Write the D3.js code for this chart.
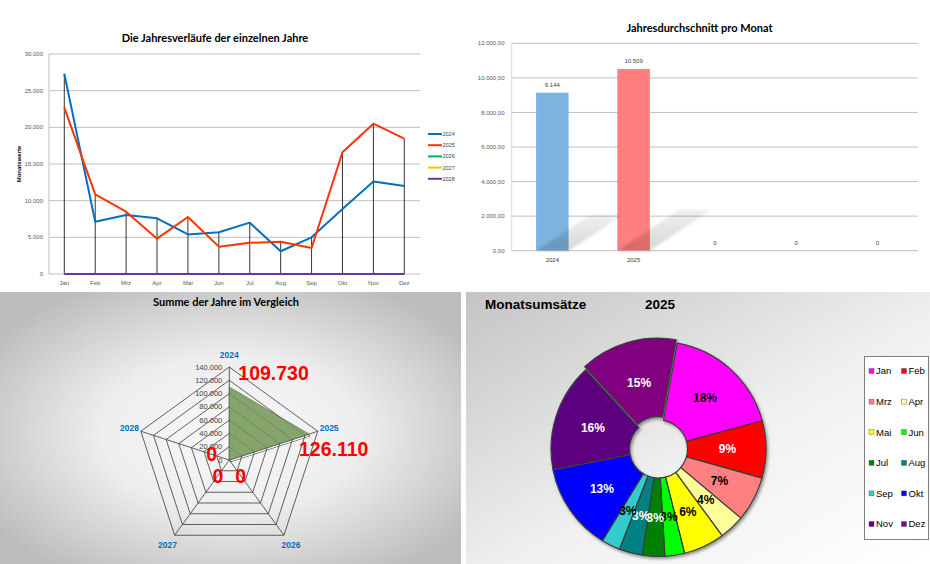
<!DOCTYPE html>
<html lang="de">
<head>
<meta charset="UTF-8">
<title>Jahresübersicht</title>
<script src="https://d3js.org/d3.v7.min.js"></script>
<style>
  html, body { margin: 0; padding: 0; background: #fff; }
  svg { display: block; }
  .title { font-family: Lato, "Open Sans", sans-serif; font-weight: bold; fill: #000; }
  .small { font-family: "Liberation Sans", Arial, sans-serif; fill: #595959; }
</style>
</head>
<body>
<div id="chart"></div>
<script>
// ---- Daten ----
const months = ["Jan", "Feb", "Mrz", "Apr", "Mai", "Jun", "Jul", "Aug", "Sep", "Okt", "Nov", "Dez"];
const years = ["2024", "2025", "2026", "2027", "2028"];
const values2024 = [27300, 7130, 8050, 7600, 5400, 5700, 7000, 3100, 5000, 8850, 12600, 12000];
const values2025 = [22680, 10860, 8500, 4820, 7770, 3730, 4250, 4400, 3550, 16600, 20500, 18450];
const values2026 = [0, 0, 0, 0, 0, 0, 0, 0, 0, 0, 0, 0];
const values2027 = [0, 0, 0, 0, 0, 0, 0, 0, 0, 0, 0, 0];
const values2028 = [0, 0, 0, 0, 0, 0, 0, 0, 0, 0, 0, 0];
const yearAverages = [9144, 10509, 0, 0, 0];
const barLabels = ["2024", "2025", "", "", ""];
const yearTotals = [109730, 126110, 0, 0, 0];

// ---- Farben ----
const lineColors = ["#0070C0", "#FF3300", "#00B050", "#FFC000", "#7030A0"];
const barColors = ["#7DB3DF", "#FF7E7E", "#ccc", "#ccc", "#ccc"];
const pieColors = ["#FF00FF", "#FF0000", "#FF8080", "#FFFF99", "#FFFF00", "#00FF00",
                   "#008000", "#008080", "#33CCCC", "#0000FF", "#5C0080", "#800080"];
const pieTextColors = ["#000", "#fff", "#000", "#000", "#000", "#000",
                       "#fff", "#fff", "#000", "#fff", "#fff", "#fff"];

const de = d3.formatLocale({ decimal: ",", thousands: ".", grouping: [3], currency: ["", " €"] });
const fInt = de.format(",d");
const fDec = de.format(",.2f");

const W = 930, H = 564;
const svg = d3.select("#chart").append("svg").attr("width", W).attr("height", H);
const defs = svg.append("defs");

// Hintergründe
const rg = defs.append("radialGradient").attr("id", "radarBg")
  .attr("cx", "50%").attr("cy", "52%").attr("r", "62%");
rg.append("stop").attr("offset", "0%").attr("stop-color", "#f7f7f7");
rg.append("stop").attr("offset", "45%").attr("stop-color", "#eeeeee");
rg.append("stop").attr("offset", "100%").attr("stop-color", "#bcbcbc");

const lg = defs.append("linearGradient").attr("id", "pieBg")
  .attr("x1", 0).attr("y1", 0).attr("x2", 1).attr("y2", 1);
lg.append("stop").attr("offset", "0%").attr("stop-color", "#c4c4c4");
lg.append("stop").attr("offset", "55%").attr("stop-color", "#f0f0f0");
lg.append("stop").attr("offset", "100%").attr("stop-color", "#ffffff");

const shadowGrad = defs.append("linearGradient").attr("id", "barShadow")
  .attr("x1", 0).attr("y1", 1).attr("x2", 0).attr("y2", 0);
shadowGrad.append("stop").attr("offset", "0%").attr("stop-color", "#000").attr("stop-opacity", 0.16);
shadowGrad.append("stop").attr("offset", "100%").attr("stop-color", "#000").attr("stop-opacity", 0.06);

defs.append("filter").attr("id", "blur").append("feGaussianBlur").attr("stdDeviation", 1.5);
defs.append("filter").attr("id", "pieShadow")
  .attr("x", "-20%").attr("y", "-20%").attr("width", "140%").attr("height", "140%")
  .append("feDropShadow").attr("dx", 1.5).attr("dy", 2).attr("stdDeviation", 1.5)
  .attr("flood-color", "#000").attr("flood-opacity", 0.4);

// ================= 1) Liniendiagramm =================
{
  const g = svg.append("g");
  const x = d3.scalePoint().domain(months).range([64.3, 404.3]);
  const y = d3.scaleLinear().domain([0, 30000]).range([274, 54]);
  const series = [values2024, values2025, values2026, values2027, values2028];

  g.append("text").attr("class", "title").attr("x", 215).attr("y", 42)
    .attr("text-anchor", "middle").attr("font-size", 11).text("Die Jahresverläufe der einzelnen Jahre");

  g.selectAll(".grid").data(y.ticks(6)).join("line")
    .attr("x1", 49).attr("x2", 420).attr("y1", d => y(d)).attr("y2", d => y(d))
    .attr("stroke", "#bfbfbf").attr("stroke-width", 1);
  g.append("line").attr("x1", 49).attr("x2", 49).attr("y1", 54).attr("y2", 274).attr("stroke", "#bfbfbf");

  g.selectAll(".ylab").data(y.ticks(6)).join("text").attr("class", "small")
    .attr("x", 43).attr("y", d => y(d)).attr("dy", "0.35em").attr("text-anchor", "end")
    .attr("font-size", 6).text(d => fInt(d));
  g.selectAll(".xlab").data(months).join("text").attr("class", "small")
    .attr("x", d => x(d)).attr("y", 285).attr("text-anchor", "middle")
    .attr("font-size", 6).text(d => d);

  g.append("text").attr("class", "small").attr("transform", "translate(21,164) rotate(-90)")
    .attr("text-anchor", "middle").attr("font-size", 6).attr("font-weight", "bold")
    .style("fill", "#000").text("Monatswerte");

  // Lotlinien
  g.selectAll(".drop").data(months).join("line")
    .attr("x1", d => x(d)).attr("x2", d => x(d))
    .attr("y1", (d, i) => y(d3.max(series, s => s[i]))).attr("y2", y(0))
    .attr("stroke", "#000").attr("stroke-width", 0.8);

  const line = d3.line().x((d, i) => x(months[i])).y(d => y(d));
  series.forEach((s, k) => {
    g.append("path").datum(s).attr("d", line).attr("fill", "none")
      .attr("stroke", lineColors[k]).attr("stroke-width", 2).attr("stroke-linejoin", "round");
  });

  const leg = g.selectAll(".leg").data(years).join("g")
    .attr("transform", (d, i) => `translate(428,${134 + i * 11.2})`);
  leg.append("line").attr("x1", 0).attr("x2", 14).attr("stroke", (d, i) => lineColors[i]).attr("stroke-width", 2);
  leg.append("text").attr("class", "small").attr("x", 14.5).attr("dy", "0.35em")
    .attr("font-size", 5.5).style("fill", "#404040").text(d => d);
}

// ================= 2) Säulendiagramm =================
{
  const g = svg.append("g");
  const x = d3.scaleBand().domain(d3.range(years.length)).range([511.7, 918])
    .paddingInner(0.6).paddingOuter(0.3);
  const y = d3.scaleLinear().domain([0, 12000]).range([250.7, 43.3]);

  g.append("text").attr("class", "title").attr("x", 699.5).attr("y", 32)
    .attr("text-anchor", "middle").attr("font-size", 11).text("Jahresdurchschnitt pro Monat");

  g.selectAll(".grid").data(y.ticks(6)).join("line")
    .attr("x1", 511.7).attr("x2", 918).attr("y1", d => y(d)).attr("y2", d => y(d))
    .attr("stroke", "#bfbfbf");
  g.append("line").attr("x1", 511.7).attr("x2", 511.7).attr("y1", 43.3).attr("y2", 250.7).attr("stroke", "#d9d9d9");

  g.selectAll(".ylab").data(y.ticks(6)).join("text").attr("class", "small")
    .attr("x", 504.5).attr("y", d => y(d)).attr("dy", "0.35em").attr("text-anchor", "end")
    .attr("font-size", 6).text(d => fDec(d));

  g.selectAll(".bar").data(yearAverages).join("rect")
    .attr("x", (d, i) => x(i)).attr("width", x.bandwidth())
    .attr("y", d => y(d)).attr("height", d => y(0) - y(d))
    .attr("fill", (d, i) => barColors[i]);

  // Schatten
  g.selectAll(".shadow").data(yearAverages.filter(d => d > 0)).join("path")
    .attr("d", (d, i) => {
      const h = y(0) - y(d), x0 = x(i), x1 = x(i) + x.bandwidth();
      const dy = h * 0.225, dx = h * 0.34, b = y(0);
      return `M${x0},${b}L${x1},${b}L${x1 + dx},${b - dy}L${x0 + dx},${b - dy}Z`;
    })
    .attr("fill", "url(#barShadow)").attr("filter", "url(#blur)");

  g.selectAll(".vlab").data(yearAverages).join("text").attr("class", "small")
    .attr("x", (d, i) => x(i) + x.bandwidth() / 2)
    .attr("y", d => d > 0 ? y(d) - 6 : y(0) - 6)
    .attr("text-anchor", "middle").attr("font-size", 6).style("fill", "#404040")
    .text(d => fInt(d));

  g.selectAll(".xlab").data(barLabels).join("text").attr("class", "small")
    .attr("x", (d, i) => x(i) + x.bandwidth() / 2).attr("y", 261.5)
    .attr("text-anchor", "middle").attr("font-size", 6).style("fill", "#404040").text(d => d);
}

// ================= 3) Netzdiagramm =================
{
  const g = svg.append("g");
  g.append("rect").attr("x", 0).attr("y", 292).attr("width", 461).attr("height", 272).attr("fill", "url(#radarBg)");
  g.append("text").attr("class", "title").attr("x", 226).attr("y", 306)
    .attr("text-anchor", "middle").attr("font-size", 11).text("Summe der Jahre im Vergleich");

  const cx = 229.3, cy = 460;
  const r = d3.scaleLinear().domain([0, 140000]).range([0, 93]);
  const ang = i => i * 2 * Math.PI / years.length;
  const pt = (i, v) => [cx + r(v) * Math.sin(ang(i)), cy - r(v) * Math.cos(ang(i))];
  const closed = d3.line().curve(d3.curveLinearClosed);
  const ticks = r.ticks(7);
  const poly = closed(yearTotals.map((v, i) => pt(i, v)));

  // Schatten nur außerhalb der Fläche
  const mask = defs.append("mask").attr("id", "radarMask");
  mask.append("rect").attr("x", 0).attr("y", 0).attr("width", W).attr("height", H).attr("fill", "#fff");
  mask.append("path").attr("d", poly).attr("fill", "#000");
  g.append("path").attr("d", poly).attr("transform", "translate(1,1.8)").attr("mask", "url(#radarMask)")
    .attr("fill", "#1a1a1a").attr("stroke", "#1a1a1a").attr("stroke-width", 0.8);

  g.append("path").attr("d", poly).attr("fill", "#86A56C").attr("stroke", "#3a4a30").attr("stroke-width", 0.6);

  ticks.filter(t => t > 0).forEach(t => {
    g.append("path").attr("d", closed(years.map((d, i) => pt(i, t))))
      .attr("fill", "none").attr("stroke", "#3a3a3a").attr("stroke-width", 0.8);
  });
  years.forEach((d, i) => {
    const p = pt(i, 140000);
    g.append("line").attr("x1", cx).attr("y1", cy).attr("x2", p[0]).attr("y2", p[1])
      .attr("stroke", "#3a3a3a").attr("stroke-width", 0.8);
  });
  // Fläche leicht transparent darüber, damit das Netz durchscheint
  g.append("path").attr("d", poly).attr("fill", "#86A56C").attr("fill-opacity", 0.7).attr("stroke", "none");

  g.selectAll(".tick").data(ticks).join("text")
    .attr("x", cx - 7).attr("y", d => cy - r(d)).attr("dy", "0.35em").attr("text-anchor", "end")
    .attr("font-family", "Liberation Sans, Arial, sans-serif").attr("font-size", 7.5).attr("fill", "#404040")
    .text(d => fInt(d));

  g.selectAll(".axlab").data(years).join("text")
    .attr("x", (d, i) => cx + 105 * Math.sin(ang(i)))
    .attr("y", (d, i) => cy - 105 * Math.cos(ang(i)))
    .attr("dy", "0.35em").attr("text-anchor", "middle")
    .attr("font-family", "Liberation Sans, Arial, sans-serif").attr("font-weight", "bold")
    .attr("font-size", 8.5).attr("fill", "#0070C0").text(d => d);

  // Datenbeschriftungen (manuell verschoben wie im Original)
  const labelShift = [[9, -7, "start"], [-10, 22, "start"], [11.4, 23, "middle"], [-11.3, 23, "middle"], [-17.6, 1, "middle"]];
  g.selectAll(".vlab").data(yearTotals).join("text")
    .attr("x", (d, i) => pt(i, d)[0] + labelShift[i][0])
    .attr("y", (d, i) => pt(i, d)[1] + labelShift[i][1])
    .attr("text-anchor", (d, i) => labelShift[i][2])
    .attr("font-family", "Liberation Sans, Arial, sans-serif").attr("font-weight", "bold")
    .attr("font-size", 19.5).attr("fill", "#FF0000").text(d => fInt(d));
}

// ================= 4) Ringdiagramm =================
{
  const g = svg.append("g");
  g.append("rect").attr("x", 466).attr("y", 292).attr("width", 464).attr("height", 272).attr("fill", "url(#pieBg)");
  g.append("text").attr("x", 485).attr("y", 309)
    .attr("font-family", "Liberation Sans, Arial, sans-serif").attr("font-weight", "bold")
    .attr("font-size", 13.5).text("Monatsumsätze");
  g.append("text").attr("x", 645).attr("y", 309)
    .attr("font-family", "Liberation Sans, Arial, sans-serif").attr("font-weight", "bold")
    .attr("font-size", 13.5).text(years[1]);

  const cx = 658.5, cy = 449, R = 107.5, r0 = 29;
  const a0 = 10 * Math.PI / 180;
  const pie = d3.pie().sort(null).startAngle(a0).endAngle(a0 + 2 * Math.PI);
  const arcs = pie(values2025);
  const arc = d3.arc().innerRadius(r0).outerRadius(R);
  const total = d3.sum(values2025);
  const explode = (d, i) => {
    const off = i === 11 ? 3.5 : 0, m = (d.startAngle + d.endAngle) / 2;
    return `translate(${cx + off * Math.sin(m)},${cy - off * Math.cos(m)})`;
  };

  const pg = g.append("g").attr("filter", "url(#pieShadow)");
  pg.selectAll("path").data(arcs).join("path")
    .attr("transform", explode).attr("d", arc)
    .attr("fill", (d, i) => pieColors[i])
    .attr("stroke", "#3c3c3c").attr("stroke-width", 1.2).attr("stroke-linejoin", "round");

  const labArc = d3.arc().innerRadius(69).outerRadius(69);
  g.selectAll(".plab").data(arcs).join("text")
    .attr("transform", (d, i) => {
      const c = labArc.centroid(d);
      return `translate(${cx + c[0]},${cy + c[1]})`;
    })
    .attr("dy", "0.35em").attr("text-anchor", "middle")
    .attr("font-family", "Liberation Sans, Arial, sans-serif").attr("font-weight", "bold")
    .attr("font-size", 12).attr("fill", (d, i) => pieTextColors[i])
    .text(d => Math.round(d.data / total * 100) + "%");

  // Legende
  g.append("rect").attr("x", 864.5).attr("y", 356.5).attr("width", 64).attr("height", 183)
    .attr("fill", "#fff").attr("stroke", "#7f7f7f").attr("stroke-width", 1);
  const leg = g.selectAll(".leg").data(months).join("g")
    .attr("transform", (d, i) => `translate(${i % 2 === 0 ? 869 : 901.5},${371 + Math.floor(i / 2) * 30.6})`);
  leg.append("rect").attr("x", 0).attr("y", -2.5).attr("width", 5).attr("height", 5)
    .attr("fill", (d, i) => pieColors[i]).attr("stroke", "#555").attr("stroke-width", 0.4);
  leg.append("text").attr("x", 7).attr("dy", "0.35em")
    .attr("font-family", "Liberation Sans, Arial, sans-serif").attr("font-size", 9.5)
    .attr("fill", "#000").text(d => d);
}
</script>
</body>
</html>
